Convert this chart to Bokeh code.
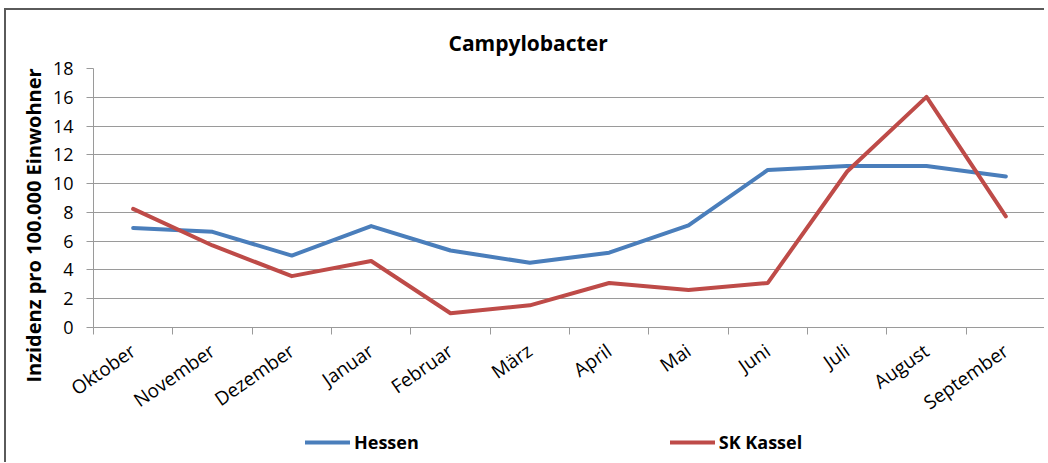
from bokeh.plotting import figure
from bokeh.layouts import column
from bokeh.models import Range1d, FixedTicker, Legend, LegendItem, Title
from bokeh.embed import file_html
from bokeh.resources import INLINE

months = ["Oktober", "November", "Dezember", "Januar", "Februar", "März",
          "April", "Mai", "Juni", "Juli", "August", "September"]
hessen = [6.92, 6.65, 5.0, 7.05, 5.35, 4.5, 5.2, 7.1, 10.95, 11.22, 11.22, 10.5]
sk_kassel = [8.24, 5.7, 3.57, 4.62, 0.99, 1.54, 3.09, 2.6, 3.1, 10.84, 16.03, 7.73]
series_names = ["Hessen", "SK Kassel"]
series_colors = ["#4a7ebb", "#be4b48"]
y_ticks = list(range(0, 19, 2))
title_text = "Campylobacter"
y_label = "Inzidenz pro 100.000 Einwohner"

FONT = "Open Sans"
GRID = "#9a9a9a"

xs = [i + 0.5 for i in range(len(months))]

p = figure(width=1040, height=418, output_backend="svg", toolbar_location=None,
           x_range=Range1d(0, len(months)), y_range=Range1d(0, 18),
           min_border_left=87, min_border_top=58, min_border_right=1,
           min_border_bottom=100, title=None)
p.styles = {"border-top": "2px solid #5a5a5a", "border-left": "2px solid #5a5a5a",
            "margin-left": "4px", "margin-top": "8px"}
p.outline_line_color = None
p.background_fill_color = "white"
p.border_fill_color = "white"

# title
t = Title(text=title_text, align="left", offset=355, standoff=24,
          text_font=FONT, text_font_size="21px", text_font_style="bold",
          text_color="black")
p.add_layout(t, "above")

# y axis label as left title
yl = Title(text=y_label, align="left", offset=-55, standoff=5,
           text_font=FONT, text_font_size="20px", text_font_style="bold",
           text_color="black")
p.add_layout(yl, "left")

# grids
p.xgrid.visible = False
p.ygrid.grid_line_color = GRID
p.ygrid.grid_line_width = 1
p.yaxis.ticker = FixedTicker(ticks=y_ticks)

# y axis
p.yaxis.axis_line_color = GRID
p.yaxis.major_tick_line_color = GRID
p.yaxis.major_tick_out = 7
p.yaxis.major_tick_in = 0
p.yaxis.minor_tick_line_color = None
p.yaxis.major_label_standoff = 13
p.yaxis.major_label_text_font = FONT
p.yaxis.major_label_text_font_size = "18px"
p.yaxis.major_label_text_color = "black"

# x axis
p.xaxis.ticker = FixedTicker(ticks=xs, minor_ticks=list(range(len(months) + 1)))
p.xaxis.major_label_overrides = {x: m for x, m in zip(xs, months)}
p.xaxis.axis_line_color = GRID
p.xaxis.major_tick_out = 0
p.xaxis.major_tick_in = 0
p.xaxis.major_tick_line_color = None
p.xaxis.minor_tick_line_color = GRID
p.xaxis.minor_tick_out = 7
p.xaxis.minor_tick_in = 0
p.xaxis.major_label_orientation = 0.61
p.xaxis.major_label_standoff = 14
p.xaxis.major_label_text_font = FONT
p.xaxis.major_label_text_font_size = "19px"
p.xaxis.major_label_text_color = "black"

p.line(xs, hessen, line_color=series_colors[0], line_width=4,
       line_join="round", line_cap="round")
p.line(xs, sk_kassel, line_color=series_colors[1], line_width=4,
       line_join="round", line_cap="round")

# legend strip below the chart
q = figure(width=1040, height=36, output_backend="svg", toolbar_location=None,
           x_axis_type=None, y_axis_type=None, min_border=0,
           x_range=Range1d(0, len(months)), y_range=Range1d(0, 18))
q.styles = {"border-left": "2px solid #5a5a5a", "margin-left": "4px"}
q.outline_line_color = None
q.xgrid.visible = False
q.ygrid.visible = False
q1 = q.line(xs, hessen, line_color=series_colors[0], line_width=4,
            line_cap="round", visible=False)
q2 = q.line(xs, sk_kassel, line_color=series_colors[1], line_width=4,
            line_cap="round", visible=False)
lg = Legend(items=[LegendItem(label=series_names[0], renderers=[q1]),
                   LegendItem(label=series_names[1], renderers=[q2])],
            location=(212, 8), orientation="horizontal",
            glyph_width=45, glyph_height=20, label_standoff=4,
            padding=0, margin=0, spacing=251,
            border_line_color=None, background_fill_alpha=0,
            inactive_fill_alpha=0,
            label_text_font=FONT, label_text_font_size="18px",
            label_text_font_style="bold", label_text_color="black")
q.add_layout(lg, "center")

layout = column(p, q, spacing=0)
open("out.html", "w").write(file_html(layout, INLINE))
